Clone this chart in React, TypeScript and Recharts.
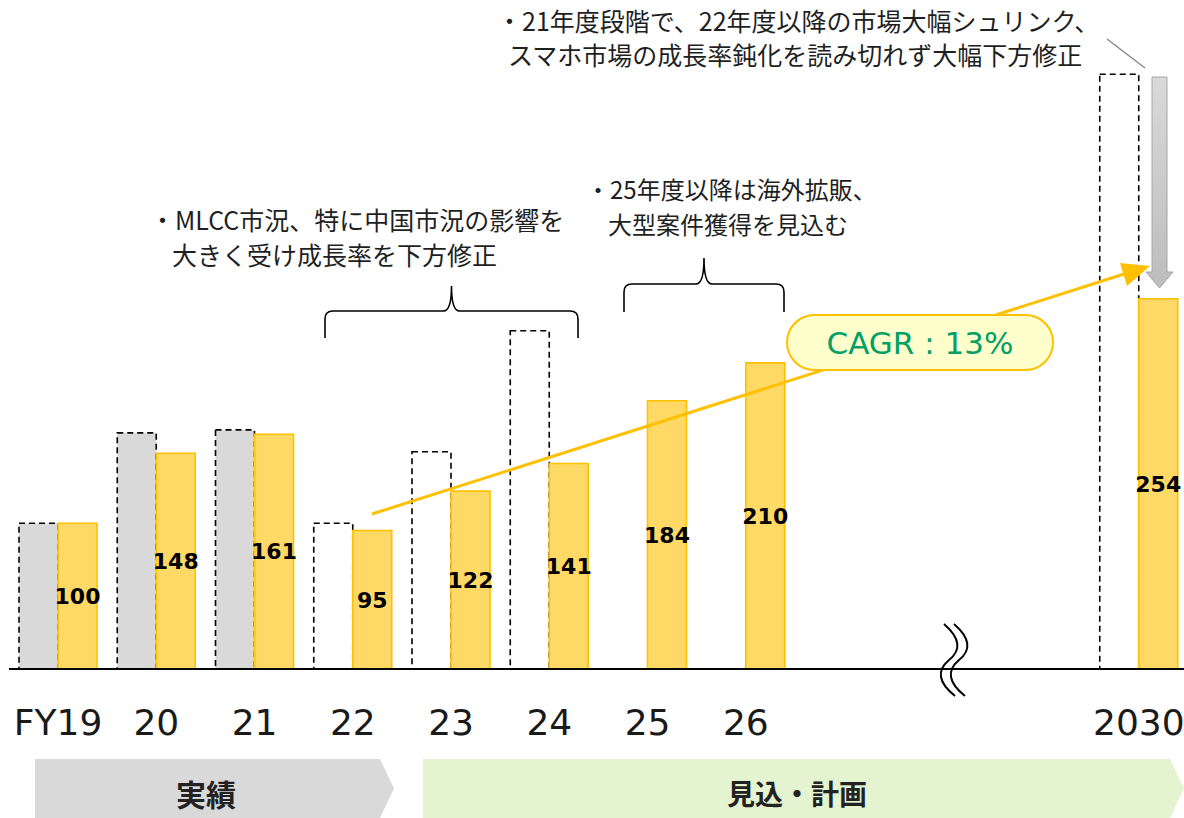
import { BarChart, Bar, XAxis, YAxis, Cell, LabelList } from 'recharts';

// Fiscal year categories (three empty slots stand for the break before 2030)
const categories = ['FY19', '20', '21', '22', '23', '24', '25', '26', '', '', '', '2030'];

// Previous plan (dashed outline bars); first three are actuals
const prevPlan = [100, 162, 164, 100, 149, 232, null, null, null, null, null, 408];

// Current plan / actuals (yellow bars)
const currentPlan = [100, 148, 161, 95, 122, 141, 184, 210, null, null, null, 254];

const ACTUAL_COUNT = 3;

const JP_FONT = '"Noto Sans CJK JP", "Noto Sans", sans-serif';
const NUM_FONT = '"DejaVu Sans", Verdana, sans-serif';

const data = categories.map((cat, i) => ({
  cat,
  prev: prevPlan[i],
  cur: currentPlan[i],
}));

// Curly brace opening downward, tip on top
function Brace({ x1, x2, yTip, yMid, yEnd }: { x1: number; x2: number; yTip: number; yMid: number; yEnd: number }) {
  const cx = (x1 + x2) / 2;
  const r = 8;
  const d = `M${x1},${yEnd} L${x1},${yMid + r} Q${x1},${yMid} ${x1 + r},${yMid} L${cx - r},${yMid} Q${cx},${yMid} ${cx},${yTip}` +
    ` Q${cx},${yMid} ${cx + r},${yMid} L${x2 - r},${yMid} Q${x2},${yMid} ${x2},${yMid + r} L${x2},${yEnd}`;
  return <path d={d} fill="none" stroke="#000" strokeWidth={1.6} />;
}

function Overlay() {
  const textColor = '#1f1f1f';
  return (
    <svg
      width={1184}
      height={818}
      style={{ position: 'absolute', left: 0, top: 0, pointerEvents: 'none' }}
    >
      <defs>
        <linearGradient id="grayArrow" x1="0" y1="0" x2="0" y2="1">
          <stop offset="0%" stopColor="#D9D9D9" />
          <stop offset="100%" stopColor="#BDBDBD" />
        </linearGradient>
      </defs>

      {/* top note */}
      <text x={497} y={31} fontFamily={JP_FONT} fontSize={25} fill={textColor}>・21年度段階で、22年度以降の市場大幅シュリンク、</text>
      <text x={508} y={65} fontFamily={JP_FONT} fontSize={25} fill={textColor}>スマホ市場の成長率鈍化を読み切れず大幅下方修正</text>
      <line x1={1107} y1={39} x2={1145} y2={68} stroke="#808080" strokeWidth={1.2} />

      {/* downward revision arrow */}
      <polygon
        points="1152,77 1167,77 1167,272 1173,272 1159.5,288 1146,272 1152,272"
        fill="url(#grayArrow)"
        stroke="#A6A6A6"
        strokeWidth={1}
      />

      {/* middle notes */}
      <text x={150} y={230} fontFamily={JP_FONT} fontSize={25} fill={textColor}>・MLCC市況、特に中国市況の影響を</text>
      <text x={172} y={265} fontFamily={JP_FONT} fontSize={25} fill={textColor}>大きく受け成長率を下方修正</text>
      <Brace x1={325} x2={578} yTip={286} yMid={311} yEnd={338} />

      <text x={586} y={199} fontFamily={JP_FONT} fontSize={24} fill={textColor}>・25年度以降は海外拡販、</text>
      <text x={608} y={234} fontFamily={JP_FONT} fontSize={24} fill={textColor}>大型案件獲得を見込む</text>
      <Brace x1={624} x2={784} yTip={258} yMid={284} yEnd={312} />

      {/* CAGR trend arrow */}
      <line x1={372} y1={514} x2={1124} y2={274} stroke="#FFC000" strokeWidth={3} />
      <polygon points="1150,266 1127,286 1120,263" fill="#FFC000" />
      <rect x={787} y={315} width={266} height={55} rx={27.5} fill="#FFFFCC" stroke="#FFC000" strokeWidth={2} />
      <text x={920} y={343} textAnchor="middle" dominantBaseline="central" fontFamily={NUM_FONT} fontSize={31} fill="#00A066">
        CAGR : 13%
      </text>

      {/* axis break */}
      <path d="M944,624 Q968,645 949,660 Q930,676 955,696" fill="none" stroke="#000" strokeWidth={2} />
      <path d="M954,624 Q978,645 959,660 Q940,676 965,696" fill="none" stroke="#000" strokeWidth={2} />

      {/* period bands */}
      <polygon points="35,759 380,759 394,788.5 380,818 35,818" fill="#D9D9D9" />
      <text x={206} y={793} textAnchor="middle" dominantBaseline="central" fontFamily={JP_FONT} fontWeight="bold" fontSize={30} fill="#222">
        実績
      </text>
      <polygon points="423,759 1170,759 1184,788.5 1170,818 423,818" fill="#E4F3D0" />
      <text x={797} y={793} textAnchor="middle" dominantBaseline="central" fontFamily={JP_FONT} fontWeight="bold" fontSize={28} fill="#222">
        見込・計画
      </text>
    </svg>
  );
}

export default function App() {
  return (
    <div
      style={{
        position: 'absolute',
        left: 0,
        top: 0,
        width: 1184,
        height: 818,
        overflow: 'hidden',
        background: '#fff',
      }}
    >
      <BarChart
        width={1188}
        height={818}
        data={data}
        margin={{ top: 13, right: 0, left: 9, bottom: 49 }}
        barGap={0}
        barSize={39}
      >
        <XAxis
          dataKey="cat"
          interval={0}
          height={100}
          tickLine={false}
          tickSize={0}
          tickMargin={40}
          axisLine={{ stroke: '#000', strokeWidth: 2 }}
          tick={{ fontSize: 36, fill: '#1a1a1a', fontFamily: NUM_FONT }}
        />
        <YAxis hide width={0} domain={[0, 450]} />
        <Bar
          dataKey="prev"
          isAnimationActive={false}
          stroke="#000"
          strokeWidth={1.6}
          strokeDasharray="6 4"
        >
          {data.map((_, i) => (
            <Cell key={i} fill={i < ACTUAL_COUNT ? '#D9D9D9' : 'none'} />
          ))}
        </Bar>
        <Bar
          dataKey="cur"
          isAnimationActive={false}
          fill="#FFD966"
          stroke="#FFC000"
          strokeWidth={1.6}
        >
          <LabelList
            dataKey="cur"
            position="center"
            formatter={(v: any) => (v == null ? '' : v)}
            style={{ fontSize: 22, fontWeight: 'bold', fill: '#000', fontFamily: NUM_FONT }}
          />
        </Bar>
      </BarChart>
      <Overlay />
    </div>
  );
}
